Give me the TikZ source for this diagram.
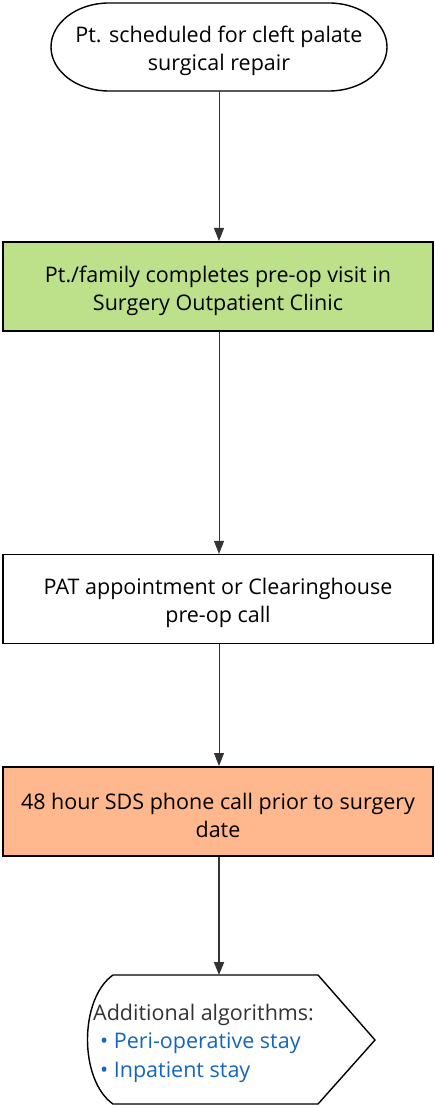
\documentclass[tikz,border=0pt]{standalone}
\usepackage{fontspec}
\setmainfont{Open Sans}
\usetikzlibrary{arrows.meta}
\definecolor{boxgreen}{RGB}{189,224,139}
\definecolor{boxorange}{RGB}{255,183,141}
\definecolor{linkblue}{RGB}{21,101,192}
\definecolor{txtgray}{RGB}{51,51,51}
\definecolor{arrowgray}{RGB}{51,51,51}
\newcommand{\downstrut}{\rule{0pt}{25pt}}
\tikzset{
  bigfont/.style={font=\fontsize{21.5}{28}\selectfont},
  txt/.style={bigfont, align=center, text=black},
  stepbox/.style={txt, draw=black, rectangle, minimum width=430pt, minimum height=89pt, inner sep=0pt},
  conn/.style={draw=arrowgray, line width=0.9pt, -{Triangle[length=13pt,width=10pt]}},
  listline/.style={bigfont, anchor=base west, inner sep=0pt},
  outline/.style={draw=black, line width=1.4pt},
}
\begin{document}
\begin{tikzpicture}[x=1pt,y=-1pt]
\useasboundingbox (0,0) rectangle (435,1107);
% start terminal
\draw[outline] (109,3) -- (329,3) arc[start angle=90, end angle=-90, x radius=58pt, y radius=44pt]
  -- (109,91) arc[start angle=270, end angle=90, x radius=58pt, y radius=44pt] -- cycle;
\node[txt, minimum width=336pt, minimum height=88pt, inner sep=0pt] (start) at (219,47)
  {\downstrut Pt. scheduled for cleft palate\\surgical repair};
\node[stepbox, fill=boxgreen, line width=2pt] (visit) at (218,286.5)
  {\downstrut Pt./family completes pre-op visit in\\Surgery Outpatient Clinic};
\node[stepbox, line width=1.2pt] (pat) at (218,599)
  {\downstrut PAT appointment or Clearinghouse\\pre-op call};
\node[stepbox, fill=boxorange, line width=2pt] (sds) at (218,811.5)
  {\downstrut 48 hour SDS phone call prior to surgery\\date};
% display shape
\draw[outline] (113,975) -- (318,975) -- (375,1040) -- (318,1104) -- (113,1104)
  .. controls (79,1080) and (79,999) .. (113,975);
\coordinate (disptop) at (219,975);
\node[listline, text=txtgray] (addl) at (93,1020) {Additional algorithms:};
\node[listline, text=linkblue] (peri) at (100,1048.5) {\textbullet\ Peri-operative stay};
\node[listline, text=linkblue] (inpat) at (100,1077) {\textbullet\ Inpatient stay};
% connectors
\draw[conn] (start.south) -- (visit.north -| 219,0);
\draw[conn] (visit.south -| 219,0) -- (pat.north -| 219,0);
\draw[conn] (pat.south -| 219,0) -- (sds.north -| 219,0);
\draw[conn, line width=2pt] (sds.south -| 219,0) -- (disptop);
\end{tikzpicture}
\end{document}
